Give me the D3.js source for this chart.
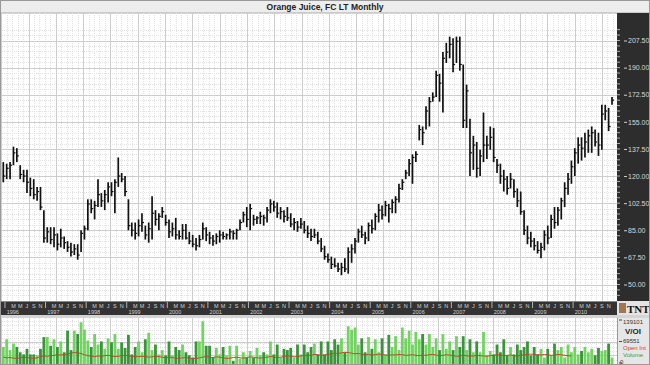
<!DOCTYPE html>
<html>
<head>
<meta charset="utf-8">
<script src="https://cdn.jsdelivr.net/npm/d3@7"></script>
<style>
  body { margin: 0; background: #fff; }
  svg { display: block; font-family: "Liberation Sans", Arial, sans-serif; }
</style>
</head>
<body>
<div id="container"></div>
<script>
// monthly bars, Dec 1995 .. Dec 2010
var startYear = 1995, startMonth = 11;

var highs = [
  129,128,129,139,138,127,124,124,119,118,113,113,
  98,87,87,87,83,86,81,78,77,76,76,85,
  88,105,105,104,118,109,111,116,116,118,132,122,
  120,105,90,90,92,96,88,90,107,98,96,100,
  95,92,90,93,85,89,89,84,82,80,82,90,
  87,84,82,83,85,84,83,86,85,86,92,97,
  100,102,95,94,97,95,100,105,104,103,100,98,
  100,96,93,91,93,91,88,86,86,84,80,75,
  70,68,67,64,64,67,74,76,80,86,88,84,
  90,92,96,102,101,104,102,105,107,115,118,124,
  131,134,136,153,152,165,171,174,188,186,200,206,
  210,209,210,210,192,179,157,146,142,137,161,146,
  152,151,131,128,124,120,122,118,112,110,98,88,
  84,80,78,77,85,88,95,100,100,106,116,122,
  130,138,145,145,148,150,152,150,148,166,166,164,171
];
var lows = [
  116,118,118,127,129,118,116,109,107,105,104,98,
  77,77,76,74,72,74,73,71,68,69,66,71,
  79,85,96,92,100,100,98,103,107,96,113,116,
  107,85,81,79,81,84,79,77,79,88,85,93,
  88,80,81,79,79,79,79,76,74,72,74,79,
  78,76,75,76,77,79,79,79,79,79,85,90,
  87,85,88,89,89,88,90,96,97,93,92,90,
  91,87,85,84,86,83,80,78,80,76,71,66,
  64,60,61,58,56,58,57,64,70,77,80,76,
  78,83,85,90,92,94,90,96,96,103,111,118,
  120,115,129,143,140,150,152,168,171,168,161,193,
  196,187,193,188,151,151,120,124,119,120,129,131,
  137,129,122,115,110,108,112,106,100,95,82,76,
  74,72,70,67,72,76,80,86,88,92,100,108,
  115,120,128,130,132,135,135,139,133,137,156,149,166
];
var closes = [
  120,125,127,135,133,121,120,116,112,108,110,100,
  80,84,79,82,76,80,77,74,71,73,69,83,
  86,102,99,101,108,104,108,113,110,116,120,118,
  110,88,85,83,88,90,82,86,96,92,94,97,
  90,84,86,82,81,85,80,78,76,75,79,86,
  82,80,78,81,82,81,82,84,83,85,90,95,
  92,99,92,93,94,93,98,102,100,96,97,94,
  93,89,90,87,89,85,83,81,82,78,73,68,
  66,63,62,60,61,60,71,73,78,84,82,80,
  88,86,94,98,95,101,99,103,105,112,116,122,
  128,132,134,150,148,162,168,171,185,180,196,200,
  205,192,207,192,156,175,135,140,125,133,140,140,
  145,132,127,120,118,112,118,110,104,97,85,80,
  78,75,72,74,82,80,92,90,98,104,112,118,
  126,135,140,138,142,146,148,142,140,160,162,152,169
];
// volume and open interest, thousands of contracts
var volume = [
  55,80,45,66,55,38,31,49,31,31,28,49,87,87,59,80,55,73,38,108,
  45,108,97,135,111,76,55,97,63,73,49,83,70,97,49,70,52,94,31,55,
  73,38,80,101,45,63,31,45,28,73,28,55,45,63,38,28,21,73,73,138,
  59,59,
  21,52,31,55,28,59,10,59,17,38,21,42,21,52,28,38,31,73,31,63,
  21,49,45,52,21,63,31,63,38,55,66,31,73,31,73,45,80,63,83,38,
  122,111,118,63,83,38,87,49,80,38,83,31,94,55,90,45,118,83,108,63,
  104,80,97,63,97,55,
  83,45,97,49,73,45,90,55,90,45,80,38,73,38,104,28,42,31,63,38,
  80,28,55,31,63,45,55,73,28,55,31,49,21,49,28,66,45,55,21,63,
  38,55,31,42,55,38,49,28,52,42,45,66,21
];
var openInt = [
  22,20,21,19,18,20,22,21,19,18,20,24,
  26,25,27,28,30,29,31,33,35,37,36,34,
  30,27,25,24,26,25,27,28,26,24,25,27,
  28,26,25,23,24,25,24,22,23,25,24,22,
  20,22,21,19,18,20,21,19,17,18,20,22,
  24,22,21,23,22,20,18,19,21,22,20,19,
  21,23,22,20,19,21,22,24,23,21,22,24,
  26,25,23,24,26,28,27,29,31,30,28,29,
  31,33,35,34,36,38,37,35,33,34,32,30,
  31,29,30,32,31,29,28,30,29,31,30,28,
  29,30,28,27,29,28,30,31,29,27,28,30,
  29,27,25,26,28,27,25,26,28,27,26,25,
  27,28,30,29,27,28,29,27,26,28,30,31,
  32,31,30,29,31,30,28,29,31,30,28,27,26
];
var priceTicks = [50, 67.5, 85, 102.5, 120, 137.5, 155, 172.5, 190, 207.5];
var volTicks = [0, 69551, 139101];
var monthLetters = {2: "M", 4: "M", 6: "J", 8: "S", 10: "N"};

var W = 650, H = 365;
var plotR = 617, mainTop = 13, mainBot = 301, bandBot = 315, volTop = 318;

var svg = d3.select('#container').append('svg')
  .attr('width', W).attr('height', H);

var bars = highs.map(function(h, i) {
  return { i: i, h: h, l: lows[i], c: closes[i], v: volume[i] * 1000, oi: openInt[i] * 1000,
           up: i === 0 || closes[i] >= closes[i - 1] };
});

var x = d3.scaleLinear().domain([0, 180]).range([3.3, 612]);
var y = d3.scaleLinear().domain([50, 207.5]).range([284.5, 40.5]);
var yv = d3.scaleLinear().domain([0, 139101]).range([364, 321]);

// backgrounds
svg.append('rect').attr('width', W).attr('height', H).attr('fill', '#fff');
svg.append('rect').attr('x', 0).attr('y', 0).attr('width', W).attr('height', mainTop)
  .attr('fill', '#ededed').attr('stroke', '#a8a8a8').attr('stroke-width', 1);
svg.append('text').attr('x', 325).attr('y', 9.5).attr('text-anchor', 'middle')
  .attr('font-size', 8.5).attr('font-weight', 'bold').attr('fill', '#222')
  .text('Orange Juice, FC LT Monthly');

// grid, main panel and volume panel
var gridStep = 27.3;
function grid(g, top, bot, hMajor, hMinor) {
  hMinor.forEach(function(gy) {
    g.append('line').attr('x1', 0).attr('x2', plotR).attr('y1', gy).attr('y2', gy)
      .attr('stroke', '#e2e2e2').attr('stroke-dasharray', '1,1');
  });
  d3.range(1.2 - gridStep, plotR, gridStep / 5).forEach(function(gx, k) {
    if (gx < 0) return;
    var major = k % 5 === 0;
    g.append('line').attr('x1', Math.round(gx) + 0.5).attr('x2', Math.round(gx) + 0.5)
      .attr('y1', top).attr('y2', bot)
      .attr('stroke', major ? '#cdcdcd' : '#e2e2e2')
      .attr('stroke-dasharray', major ? null : '1,1');
  });
  hMajor.forEach(function(gy) {
    g.append('line').attr('x1', 0).attr('x2', plotR).attr('y1', gy).attr('y2', gy)
      .attr('stroke', '#cdcdcd');
  });
}
var gMain = svg.append('g');
var minorPrices = d3.range(39.5, 215, 3.5).filter(function(p) { return y(p) > mainTop && y(p) < mainBot; });
grid(gMain, mainTop, mainBot,
  priceTicks.map(function(p) { return Math.round(y(p)) + 0.5; }).concat([Math.round(y(32.5)) + 0.5]),
  minorPrices.map(function(p) { return Math.round(y(p)) + 0.5; }));
var gVol = svg.append('g');
grid(gVol, volTop, H, [Math.round(yv(69551)) + 0.5, Math.round(yv(69551 * 0.4)) + 0.5],
  d3.range(0, 150000, 13910).map(function(v) { return Math.round(yv(v)) + 0.5; }));

// price bars (high-low-close)
var gBars = svg.append('g');
gBars.selectAll('line.hl').data(bars).enter().append('line')
  .attr('x1', function(d) { return x(d.i); }).attr('x2', function(d) { return x(d.i); })
  .attr('y1', function(d) { return y(d.h); }).attr('y2', function(d) { return y(d.l); })
  .attr('stroke', '#111').attr('stroke-width', 1.7);
gBars.selectAll('line.cl').data(bars).enter().append('line')
  .attr('x1', function(d) { return x(d.i); }).attr('x2', function(d) { return x(d.i) + 2; })
  .attr('y1', function(d) { return y(d.c); }).attr('y2', function(d) { return y(d.c); })
  .attr('stroke', '#111').attr('stroke-width', 1.2);

// right price axis
svg.append('rect').attr('x', plotR).attr('y', mainTop).attr('width', W - plotR).attr('height', mainBot - mainTop)
  .attr('fill', '#2d2d2d');
d3.range(32.5, 215, 3.5).forEach(function(p) {
  var ty = y(p);
  if (ty < mainTop + 2 || ty > mainBot - 2) return;
  svg.append('line').attr('x1', plotR).attr('x2', plotR + 3).attr('y1', ty).attr('y2', ty)
    .attr('stroke', '#cfcfcf').attr('stroke-width', 0.8);
});
var yAxis = d3.axisRight(y).tickValues(priceTicks).tickSize(3)
  .tickFormat(d3.format('.2f'));
var gy = svg.append('g').attr('transform', 'translate(' + (plotR + 7) + ',0)').call(yAxis);
gy.select('.domain').remove();
gy.selectAll('line').attr('stroke', '#cfcfcf');
gy.selectAll('text').attr('fill', '#d8d8d8').attr('font-size', 7).attr('x', 4)
  .attr('font-family', '"Liberation Sans", Arial, sans-serif');

// time band
svg.append('rect').attr('x', 0).attr('y', mainBot).attr('width', plotR).attr('height', bandBot - mainBot)
  .attr('fill', '#333');
svg.append('line').attr('x1', 0).attr('x2', W).attr('y1', mainBot + 0.5).attr('y2', mainBot + 0.5)
  .attr('stroke', '#888');
var gBand = svg.append('g').attr('font-size', 5.5).attr('fill', '#d0d0d0');
bars.forEach(function(d) {
  var m = (startMonth + d.i) % 12;
  var yr = startYear + Math.floor((startMonth + d.i) / 12);
  if (m === 0) {
    gBand.append('line').attr('x1', x(d.i) - 1.7).attr('x2', x(d.i) - 1.7)
      .attr('y1', mainBot + 1).attr('y2', mainBot + 7).attr('stroke', '#d0d0d0').attr('stroke-width', 0.8);
    gBand.append('text').attr('x', x(d.i)).attr('y', mainBot + 12.5).text(yr);
  } else if (monthLetters[m]) {
    gBand.append('text').attr('x', x(d.i)).attr('y', mainBot + 6.5).attr('text-anchor', 'middle')
      .text(monthLetters[m]);
  }
});
// logo
svg.append('rect').attr('x', plotR).attr('y', mainBot).attr('width', W - plotR).attr('height', bandBot - mainBot)
  .attr('fill', '#e4e4e4');
svg.append('rect').attr('x', plotR + 2).attr('y', mainBot + 2).attr('width', 7).attr('height', 10)
  .attr('fill', '#a07850');
svg.append('text').attr('x', plotR + 10).attr('y', mainBot + 11.5).attr('font-size', 11)
  .attr('font-family', '"Liberation Serif", serif').attr('font-weight', 'bold').attr('fill', '#111')
  .text('TNT');

// separator between band and volume
svg.append('rect').attr('x', 0).attr('y', bandBot).attr('width', W).attr('height', volTop - bandBot)
  .attr('fill', '#d4d4d4');

// volume bars
svg.append('g').selectAll('rect').data(bars).enter().append('rect')
  .attr('x', function(d) { return x(d.i) - 1.4; })
  .attr('y', function(d) { return yv(d.v); })
  .attr('width', 2.8)
  .attr('height', function(d) { return yv(0) - yv(d.v); })
  .attr('fill', function(d) { return d.up ? '#72d460' : '#3a9438'; });

// open interest line
var oiLine = d3.line().x(function(d) { return x(d.i); }).y(function(d) { return yv(d.oi); });
svg.append('path').datum(bars).attr('d', oiLine)
  .attr('fill', 'none').attr('stroke', '#b0502a').attr('stroke-width', 1);

// volume legend
svg.append('rect').attr('x', plotR).attr('y', volTop).attr('width', W - plotR).attr('height', H - volTop)
  .attr('fill', '#e6e6e6');
svg.append('line').attr('x1', plotR + 0.5).attr('x2', plotR + 0.5).attr('y1', volTop).attr('y2', H)
  .attr('stroke', '#999');
var gLeg = svg.append('g').attr('font-size', 6);
volTicks.forEach(function(v) {
  gLeg.append('line').attr('x1', plotR + 2).attr('x2', plotR + 5).attr('y1', yv(v) - 1).attr('y2', yv(v) - 1)
    .attr('stroke', '#444');
});
gLeg.append('text').attr('x', plotR + 6).attr('y', 324).attr('fill', '#333').text(volTicks[2]);
gLeg.append('text').attr('x', plotR + 16).attr('y', 334).attr('fill', '#222').attr('font-size', 8)
  .attr('font-weight', 'bold').attr('text-anchor', 'middle').text('V/OI');
gLeg.append('text').attr('x', plotR + 6).attr('y', 343).attr('fill', '#333').text(volTicks[1]);
gLeg.append('text').attr('x', plotR + 6).attr('y', 350).attr('fill', '#e03a2a').text('Open Int');
gLeg.append('text').attr('x', plotR + 6).attr('y', 357).attr('fill', '#3c9a3c').text('Volume');
gLeg.append('text').attr('x', plotR + 3).attr('y', 364).attr('fill', '#333').text(volTicks[0]);

// outer frame
svg.append('rect').attr('x', 0.5).attr('y', 0.5).attr('width', W - 1).attr('height', H - 1)
  .attr('fill', 'none').attr('stroke', '#999');
</script>
</body>
</html>
